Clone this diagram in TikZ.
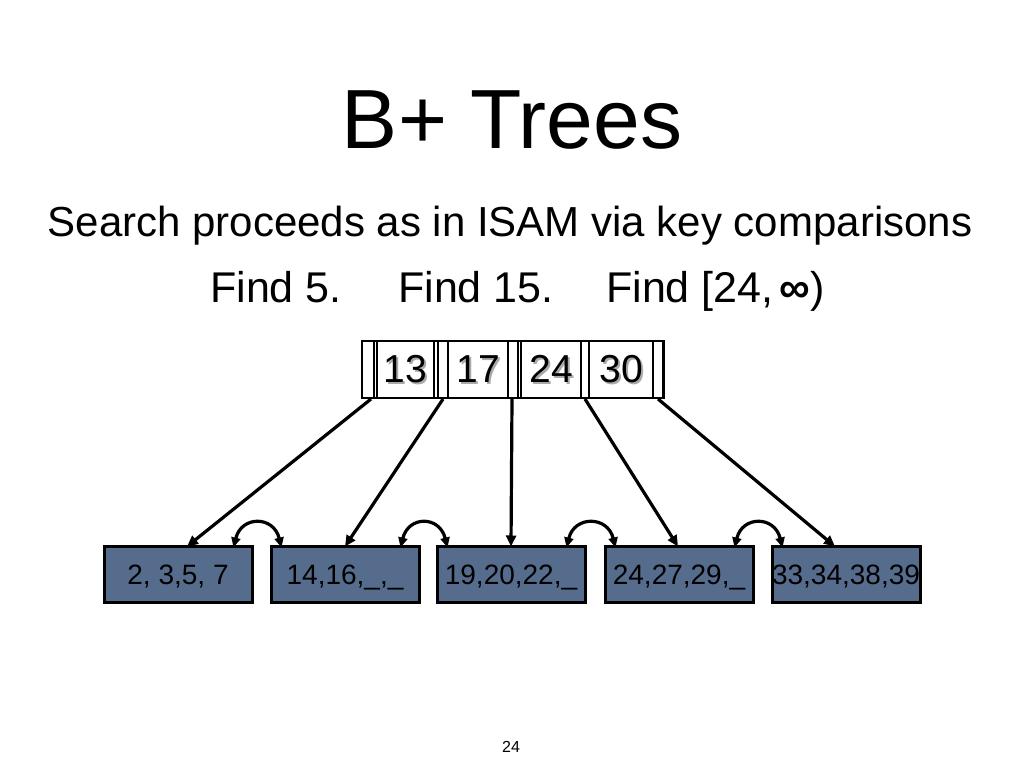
\documentclass[tikz,border=0pt]{standalone}
\usepackage{fontspec}
\setmainfont{Liberation Sans}
\usetikzlibrary{arrows.meta,calc}
\definecolor{leafblue}{RGB}{86,108,140}
\definecolor{shadowgray}{RGB}{170,170,170}
\tikzset{
  slot/.style={draw=black,line width=2pt,minimum height=57pt,inner sep=0pt,anchor=north west},
  leaf/.style={draw=black,line width=3pt,fill=leafblue,minimum width=148pt,minimum height=56pt,inner sep=0pt,text height=20pt,text depth=0pt,font=\fontsize{28}{28}\selectfont},
  ptr/.style={line width=3.2pt,-{Triangle[length=11pt,width=10pt]}},
  sib/.style={line width=3.2pt,{Triangle[length=10pt,width=9pt]}-{Triangle[length=10pt,width=9pt]}},
  keytxt/.style={font=\fontsize{39}{39}\selectfont,anchor=base,inner sep=0pt}
}
\begin{document}
\begin{tikzpicture}[x=1pt,y=-1pt]
\useasboundingbox (0,0) rectangle (1024,768);
% title and text
\node[anchor=base,inner sep=0pt,font=\fontsize{84}{84}\selectfont] (title) at (512,148) {B+ Trees};
\node[anchor=base,inner sep=0pt,font=\fontsize{42}{42}\selectfont] (sub) at (510,236) {Search proceeds as in ISAM via key comparisons};
\node[anchor=base west,inner sep=0pt,font=\fontsize{43}{43}\selectfont] (f1) at (210,302) {Find 5.};
\node[anchor=base west,inner sep=0pt,font=\fontsize{43}{43}\selectfont] (f2) at (398,302) {Find 15.};
\node[anchor=base west,inner sep=0pt,font=\fontsize{43}{43}\selectfont] (f3) at (606,302) {Find [24,\kern-6pt{} {\bfseries ∞})};
% root node
\node[slot,minimum width=302pt] (outer) at (361,340) {};
\node[slot,minimum width=12pt] (p0) at (361,340) {};
\node[slot,minimum width=57pt] (k1) at (376,340) {};
\node[slot,minimum width=10pt] (p1) at (437,340) {};
\node[slot,minimum width=60pt] (k2) at (447,340) {};
\node[slot,minimum width=10pt] (p2) at (507,340) {};
\node[slot,minimum width=60pt] (k3) at (520,340) {};
\node[slot,minimum width=8pt] (p3) at (580,340) {};
\node[slot,minimum width=64pt] (k4) at (588,340) {};
\node[slot,minimum width=10pt] (p4) at (652,340) {};
\foreach \k/\t in {k1/13,k2/17,k3/24,k4/30}{
  \node[keytxt,text=shadowgray] at ($(\k.center)+(2,15)$) {\t};
  \node[keytxt] (\k t) at ($(\k.center)+(0,13)$) {\t};
}
% leaves
\node[leaf] (l1) at (178,574) {2, 3,5, 7};
\node[leaf] (l2) at (345,574) {14,16,\_,\_};
\node[leaf] (l3) at (511,574) {19,20,22,\_};
\node[leaf] (l4) at (679,574) {24,27,29,\_};
\node[leaf] (l5) at (846,574) {33,34,38,39};
% pointers
\draw[ptr] ([xshift=3pt]p0.south) -- ([xshift=9pt,yshift=-2pt]l1.north);
\draw[ptr] (p1.south) -- ([yshift=-2pt]l2.north);
\draw[ptr] ([xshift=-1pt]p2.south) -- ([xshift=0pt,yshift=-2pt]l3.north);
\draw[ptr] (p3.south) -- ([xshift=-1pt,yshift=-2pt]l4.north);
\draw[ptr] (p4.south) -- ([xshift=-11pt,yshift=-2pt]l5.north);
% sibling links
\foreach \a/\b in {l1/l2,l2/l3,l3/l4,l4/l5}{
  \coordinate (s\a) at ([xshift=-20pt,yshift=-3pt]\a.north east);
  \coordinate (e\a) at ([xshift=12pt,yshift=-3pt]\b.north west);
  \draw[sib] (s\a) .. controls ($(s\a)+(8,-32)$) and ($(e\a)+(-8,-32)$) .. (e\a);
}
% page number
\node[anchor=base,inner sep=0pt,font=\fontsize{16}{16}\selectfont] (pg) at (511,752) {24};
\end{tikzpicture}
\end{document}
